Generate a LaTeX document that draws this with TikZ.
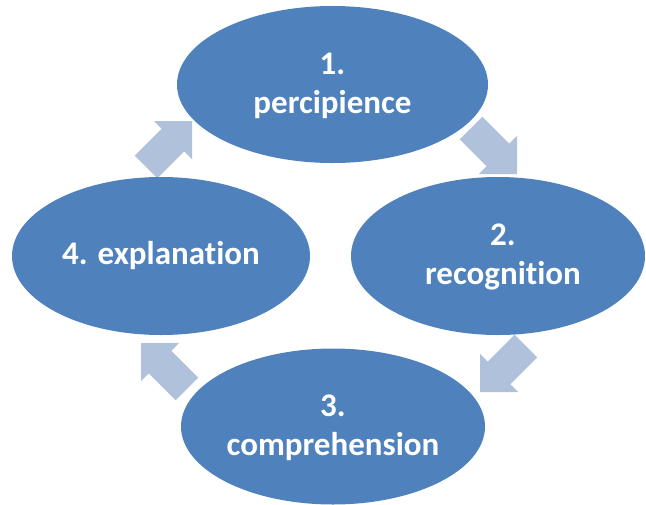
\documentclass[tikz,border=0pt]{standalone}
\usepackage{fontspec}
\setmainfont{Carlito}[Ligatures=NoCommon]
\usetikzlibrary{shapes.geometric}
\definecolor{ellblue}{HTML}{4F81BD}
\definecolor{arrblue}{HTML}{B0C1DC}
\newcommand\cycarrow[2]{\fill[arrowfill, shift={(#1)}, rotate=#2]
  (0,0) -- (-27,27) -- (-27,16) -- (-65,16) -- (-65,-16) -- (-27,-16) -- (-27,-27) -- cycle;}
\begin{document}
\begin{tikzpicture}[x=1pt,y=-1pt,
  stage/.style={ellipse, fill=ellblue, draw=none, inner sep=0pt},
  label/.style={text=white, font=\fontsize{33}{39}\selectfont\bfseries, align=center, inner sep=0pt},
  arrowfill/.style={fill=arrblue}]
\useasboundingbox (0,0) rectangle (646,504);
% arrow tips
\coordinate (t12) at (517,174);
\coordinate (t23) at (480,392);
\coordinate (t34) at (141,343);
\coordinate (t41) at (192,121);
\cycarrow{t12}{-45}
\cycarrow{t23}{-135}
\cycarrow{t34}{135}
\cycarrow{t41}{45}
% stages
\node[stage, minimum width=311pt, minimum height=157pt] (s1) at (332.5,84.5) {};
\node[stage, minimum width=294pt, minimum height=158pt] (s2) at (498,256) {};
\node[stage, minimum width=304pt, minimum height=156pt] (s3) at (333,426.5) {};
\node[stage, minimum width=298pt, minimum height=158pt] (s4) at (161,256) {};
\node[label] (l1) at (332.5,86) {1.\\percipience};
\node[label] (l2) at (503,257) {2.\\recognition};
\node[label] (l3) at (333,428) {3.\\comprehension};
\node[label] (l4) at (161,256) {4. explanation};
\end{tikzpicture}
\end{document}
